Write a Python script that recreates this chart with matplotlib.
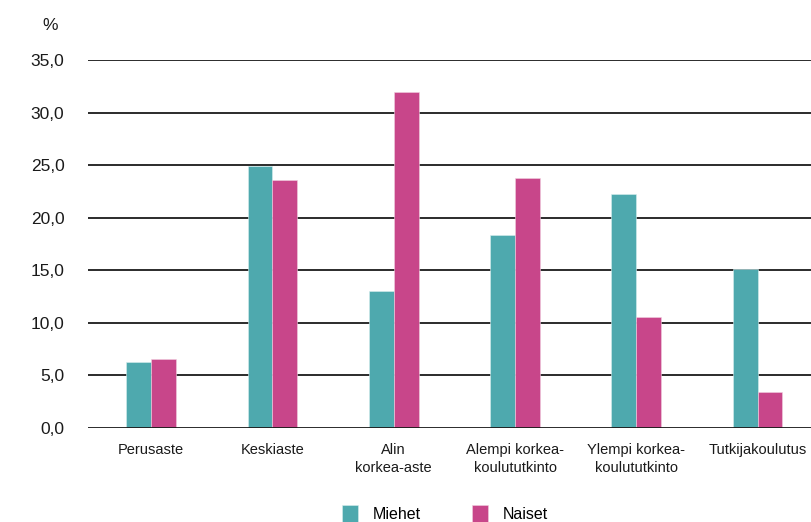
import matplotlib
matplotlib.use("Agg")
import matplotlib.pyplot as plt
import numpy as np
from matplotlib import font_manager

categories = ["Perusaste", "Keskiaste", "Alin\nkorkea-aste", "Alempi korkea-\nkoulututkinto",
              "Ylempi korkea-\nkoulututkinto", "Tutkijakoulutus"]
miehet = [6.3, 24.9, 13.0, 18.4, 22.3, 15.1]
naiset = [6.6, 23.6, 32.0, 23.8, 10.6, 3.4]
yticks = [0, 5, 10, 15, 20, 25, 30, 35]
ytick_labels = ["0,0", "5,0", "10,0", "15,0", "20,0", "25,0", "30,0", "35,0"]

available = {f.name for f in font_manager.fontManager.ttflist}
family = "Liberation Sans Narrow" if "Liberation Sans Narrow" in available else "Liberation Sans"
plt.rcParams["font.family"] = [family, "DejaVu Sans"]

TEAL = "#4EA9AE"
MAGENTA = "#C8468A"

fig = plt.figure(figsize=(8.11, 5.22), dpi=100)
W, H = 811, 522
ax = fig.add_axes([88 / W, 94 / H, (811 - 88) / W, (428 - 60) / H])

x = np.arange(len(categories))
bw = 0.205
ax.bar(x - bw / 2, miehet, bw, color=TEAL, edgecolor="#d8eeef", linewidth=0.4, zorder=3, label="Miehet")
ax.bar(x + bw / 2, naiset, bw, color=MAGENTA, edgecolor="#f0d0e0", linewidth=0.4, zorder=3, label="Naiset")

for y in yticks:
    ax.axhline(y, color="#1a1a1a", linewidth=1.3, zorder=2 if y > 0 else 4)

ax.set_xlim(-0.52, 5.44)
ax.set_ylim(0, 35)
ax.set_yticks(yticks)
ax.set_yticklabels(ytick_labels, fontsize=12.5, color="#1a1a1a")
ax.set_xticks(x)
ax.set_xticklabels(categories, fontsize=10.5, color="#1a1a1a", linespacing=1.35)
ax.tick_params(axis="y", length=0, pad=17)
ax.tick_params(axis="x", length=0, pad=11)
for s in ax.spines.values():
    s.set_visible(False)

fig.text(50 / W, 1 - 25 / H, "%", fontsize=12.5, color="#1a1a1a", ha="center", va="center")

leg = fig.legend(loc="center", bbox_to_anchor=(445 / W, 1 - 514 / H), ncol=2, frameon=False,
                 fontsize=11.5, handlelength=1.0, handleheight=1.3, handletextpad=0.9,
                 columnspacing=3.2)

fig.savefig("out.png", dpi=100)
